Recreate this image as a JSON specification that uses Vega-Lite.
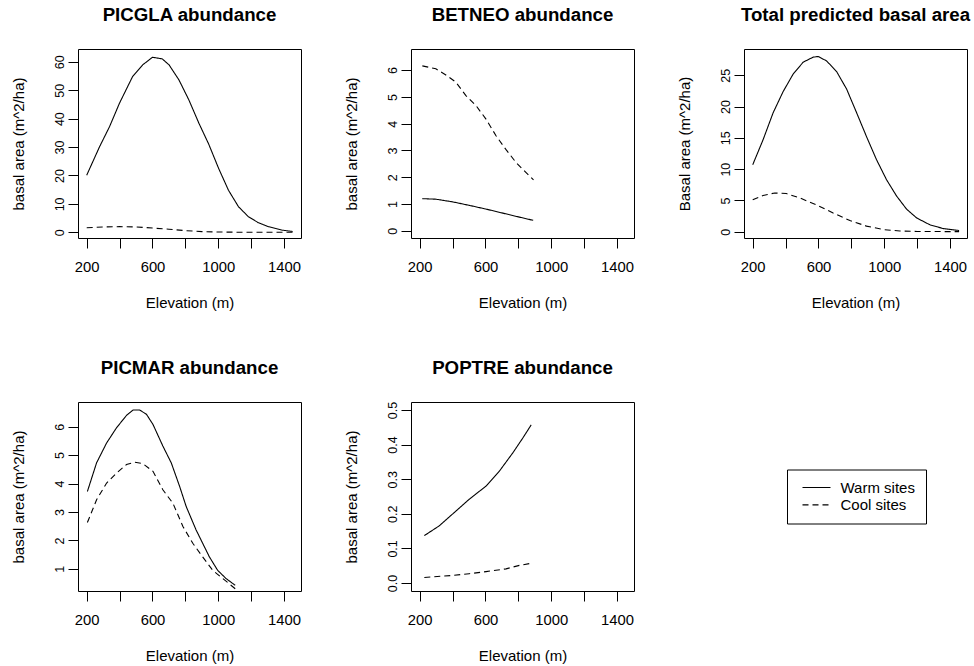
{
  "$schema": "https://vega.github.io/schema/vega-lite/v6.json",
  "autosize": "none",
  "padding": {"left": 78, "top": 49, "right": 896, "bottom": 617},
  "background": "white",
  "bounds": "flush",
  "columns": 3,
  "spacing": {"row": 164, "column": 110},
  "config": {
    "font": "Liberation Sans",
    "view": {"stroke": "black", "strokeWidth": 1},
    "axis": {
      "grid": false,
      "domain": false,
      "tickColor": "black",
      "tickSize": 10,
      "tickWidth": 1,
      "labelColor": "black",
      "titleColor": "black",
      "labelFont": "Liberation Sans",
      "titleFont": "Liberation Sans",
      "titleFontWeight": "normal",
      "titleFontSize": 15
    },
    "axisX": {
      "labelFontSize": 14.8,
      "labelPadding": 11.5,
      "labelBaseline": "top",
      "titlePadding": 21,
      "values": [200, 400, 600, 800, 1000, 1200, 1400],
      "format": "d",
      "labelExpr": "datum.value % 400 == 200 ? datum.label : ''",
      "labelFlush": false,
      "labelOverlap": false
    },
    "axisY": {
      "labelFontSize": 12.5,
      "labelAngle": -90,
      "labelAlign": "center",
      "labelBaseline": "alphabetic",
      "labelPadding": 5,
      "titleBaseline": "alphabetic",
      "titlePadding": 30,
      "labelFlush": false,
      "labelOverlap": false
    },
    "title": {"fontSize": 18.7, "fontWeight": "bold", "anchor": "middle", "offset": 24, "color": "black", "baseline": "alphabetic", "font": "Liberation Sans"},
    "line": {"color": "black", "strokeWidth": 1.1}
  },
  "resolve": {"scale": {"strokeDash": "independent"}, "legend": {"strokeDash": "independent"}},
  "data": {"values": [
    {"panel": "PICGLA", "site": "Warm sites", "elev": 200, "ba": 20.1},
    {"panel": "PICGLA", "site": "Warm sites", "elev": 278, "ba": 30.1},
    {"panel": "PICGLA", "site": "Warm sites", "elev": 339, "ba": 37.2},
    {"panel": "PICGLA", "site": "Warm sites", "elev": 399, "ba": 45.4},
    {"panel": "PICGLA", "site": "Warm sites", "elev": 479, "ba": 54.8},
    {"panel": "PICGLA", "site": "Warm sites", "elev": 540, "ba": 58.9},
    {"panel": "PICGLA", "site": "Warm sites", "elev": 600, "ba": 61.6},
    {"panel": "PICGLA", "site": "Warm sites", "elev": 660, "ba": 61.0},
    {"panel": "PICGLA", "site": "Warm sites", "elev": 701, "ba": 58.9},
    {"panel": "PICGLA", "site": "Warm sites", "elev": 761, "ba": 53.6},
    {"panel": "PICGLA", "site": "Warm sites", "elev": 821, "ba": 46.6},
    {"panel": "PICGLA", "site": "Warm sites", "elev": 882, "ba": 38.4},
    {"panel": "PICGLA", "site": "Warm sites", "elev": 942, "ba": 31.0},
    {"panel": "PICGLA", "site": "Warm sites", "elev": 1002, "ba": 22.5},
    {"panel": "PICGLA", "site": "Warm sites", "elev": 1062, "ba": 14.8},
    {"panel": "PICGLA", "site": "Warm sites", "elev": 1123, "ba": 9.0},
    {"panel": "PICGLA", "site": "Warm sites", "elev": 1183, "ba": 5.5},
    {"panel": "PICGLA", "site": "Warm sites", "elev": 1243, "ba": 3.4},
    {"panel": "PICGLA", "site": "Warm sites", "elev": 1304, "ba": 2.0},
    {"panel": "PICGLA", "site": "Warm sites", "elev": 1384, "ba": 0.8},
    {"panel": "PICGLA", "site": "Warm sites", "elev": 1452, "ba": 0.3},
    {"panel": "PICGLA", "site": "Cool sites", "elev": 200, "ba": 1.6},
    {"panel": "PICGLA", "site": "Cool sites", "elev": 300, "ba": 1.9},
    {"panel": "PICGLA", "site": "Cool sites", "elev": 400, "ba": 2.0},
    {"panel": "PICGLA", "site": "Cool sites", "elev": 500, "ba": 1.9},
    {"panel": "PICGLA", "site": "Cool sites", "elev": 600, "ba": 1.5},
    {"panel": "PICGLA", "site": "Cool sites", "elev": 700, "ba": 1.1},
    {"panel": "PICGLA", "site": "Cool sites", "elev": 800, "ba": 0.6},
    {"panel": "PICGLA", "site": "Cool sites", "elev": 900, "ba": 0.25},
    {"panel": "PICGLA", "site": "Cool sites", "elev": 1000, "ba": 0.1},
    {"panel": "PICGLA", "site": "Cool sites", "elev": 1100, "ba": 0.05},
    {"panel": "PICGLA", "site": "Cool sites", "elev": 1200, "ba": 0.02},
    {"panel": "PICGLA", "site": "Cool sites", "elev": 1300, "ba": 0.01},
    {"panel": "PICGLA", "site": "Cool sites", "elev": 1452, "ba": 0.0},
    {"panel": "BETNEO", "site": "Warm sites", "elev": 216, "ba": 1.2},
    {"panel": "BETNEO", "site": "Warm sites", "elev": 298, "ba": 1.18},
    {"panel": "BETNEO", "site": "Warm sites", "elev": 400, "ba": 1.08},
    {"panel": "BETNEO", "site": "Warm sites", "elev": 501, "ba": 0.95},
    {"panel": "BETNEO", "site": "Warm sites", "elev": 603, "ba": 0.81},
    {"panel": "BETNEO", "site": "Warm sites", "elev": 705, "ba": 0.66},
    {"panel": "BETNEO", "site": "Warm sites", "elev": 806, "ba": 0.51},
    {"panel": "BETNEO", "site": "Warm sites", "elev": 890, "ba": 0.39},
    {"panel": "BETNEO", "site": "Cool sites", "elev": 216, "ba": 6.16},
    {"panel": "BETNEO", "site": "Cool sites", "elev": 298, "ba": 6.05},
    {"panel": "BETNEO", "site": "Cool sites", "elev": 359, "ba": 5.82},
    {"panel": "BETNEO", "site": "Cool sites", "elev": 420, "ba": 5.55},
    {"panel": "BETNEO", "site": "Cool sites", "elev": 481, "ba": 5.05},
    {"panel": "BETNEO", "site": "Cool sites", "elev": 542, "ba": 4.68},
    {"panel": "BETNEO", "site": "Cool sites", "elev": 603, "ba": 4.17},
    {"panel": "BETNEO", "site": "Cool sites", "elev": 664, "ba": 3.55},
    {"panel": "BETNEO", "site": "Cool sites", "elev": 725, "ba": 3.03},
    {"panel": "BETNEO", "site": "Cool sites", "elev": 786, "ba": 2.55},
    {"panel": "BETNEO", "site": "Cool sites", "elev": 847, "ba": 2.17},
    {"panel": "BETNEO", "site": "Cool sites", "elev": 892, "ba": 1.9},
    {"panel": "TOTAL", "site": "Warm sites", "elev": 200, "ba": 10.7},
    {"panel": "TOTAL", "site": "Warm sites", "elev": 263, "ba": 14.7},
    {"panel": "TOTAL", "site": "Warm sites", "elev": 324, "ba": 19.0},
    {"panel": "TOTAL", "site": "Warm sites", "elev": 385, "ba": 22.4},
    {"panel": "TOTAL", "site": "Warm sites", "elev": 446, "ba": 25.2},
    {"panel": "TOTAL", "site": "Warm sites", "elev": 507, "ba": 27.1},
    {"panel": "TOTAL", "site": "Warm sites", "elev": 568, "ba": 27.9},
    {"panel": "TOTAL", "site": "Warm sites", "elev": 598, "ba": 28.0},
    {"panel": "TOTAL", "site": "Warm sites", "elev": 649, "ba": 27.3},
    {"panel": "TOTAL", "site": "Warm sites", "elev": 710, "ba": 25.6},
    {"panel": "TOTAL", "site": "Warm sites", "elev": 771, "ba": 22.8},
    {"panel": "TOTAL", "site": "Warm sites", "elev": 832, "ba": 19.0},
    {"panel": "TOTAL", "site": "Warm sites", "elev": 892, "ba": 15.2},
    {"panel": "TOTAL", "site": "Warm sites", "elev": 953, "ba": 11.5},
    {"panel": "TOTAL", "site": "Warm sites", "elev": 1014, "ba": 8.3},
    {"panel": "TOTAL", "site": "Warm sites", "elev": 1075, "ba": 5.7},
    {"panel": "TOTAL", "site": "Warm sites", "elev": 1136, "ba": 3.6},
    {"panel": "TOTAL", "site": "Warm sites", "elev": 1197, "ba": 2.2},
    {"panel": "TOTAL", "site": "Warm sites", "elev": 1278, "ba": 1.1},
    {"panel": "TOTAL", "site": "Warm sites", "elev": 1360, "ba": 0.5},
    {"panel": "TOTAL", "site": "Warm sites", "elev": 1455, "ba": 0.2},
    {"panel": "TOTAL", "site": "Cool sites", "elev": 200, "ba": 5.1},
    {"panel": "TOTAL", "site": "Cool sites", "elev": 263, "ba": 5.8},
    {"panel": "TOTAL", "site": "Cool sites", "elev": 334, "ba": 6.2},
    {"panel": "TOTAL", "site": "Cool sites", "elev": 405, "ba": 6.1},
    {"panel": "TOTAL", "site": "Cool sites", "elev": 486, "ba": 5.4},
    {"panel": "TOTAL", "site": "Cool sites", "elev": 588, "ba": 4.3},
    {"panel": "TOTAL", "site": "Cool sites", "elev": 689, "ba": 3.0},
    {"panel": "TOTAL", "site": "Cool sites", "elev": 791, "ba": 1.8},
    {"panel": "TOTAL", "site": "Cool sites", "elev": 892, "ba": 0.9},
    {"panel": "TOTAL", "site": "Cool sites", "elev": 994, "ba": 0.35},
    {"panel": "TOTAL", "site": "Cool sites", "elev": 1095, "ba": 0.12},
    {"panel": "TOTAL", "site": "Cool sites", "elev": 1200, "ba": 0.05},
    {"panel": "TOTAL", "site": "Cool sites", "elev": 1300, "ba": 0.03},
    {"panel": "TOTAL", "site": "Cool sites", "elev": 1455, "ba": 0.02},
    {"panel": "PICMAR", "site": "Warm sites", "elev": 204, "ba": 3.72},
    {"panel": "PICMAR", "site": "Warm sites", "elev": 260, "ba": 4.73},
    {"panel": "PICMAR", "site": "Warm sites", "elev": 321, "ba": 5.43},
    {"panel": "PICMAR", "site": "Warm sites", "elev": 381, "ba": 5.96},
    {"panel": "PICMAR", "site": "Warm sites", "elev": 442, "ba": 6.4},
    {"panel": "PICMAR", "site": "Warm sites", "elev": 482, "ba": 6.59},
    {"panel": "PICMAR", "site": "Warm sites", "elev": 521, "ba": 6.59},
    {"panel": "PICMAR", "site": "Warm sites", "elev": 563, "ba": 6.44},
    {"panel": "PICMAR", "site": "Warm sites", "elev": 603, "ba": 6.08},
    {"panel": "PICMAR", "site": "Warm sites", "elev": 663, "ba": 5.32},
    {"panel": "PICMAR", "site": "Warm sites", "elev": 714, "ba": 4.73},
    {"panel": "PICMAR", "site": "Warm sites", "elev": 765, "ba": 3.9},
    {"panel": "PICMAR", "site": "Warm sites", "elev": 805, "ba": 3.19},
    {"panel": "PICMAR", "site": "Warm sites", "elev": 865, "ba": 2.37},
    {"panel": "PICMAR", "site": "Warm sites", "elev": 905, "ba": 1.9},
    {"panel": "PICMAR", "site": "Warm sites", "elev": 946, "ba": 1.42},
    {"panel": "PICMAR", "site": "Warm sites", "elev": 996, "ba": 0.95},
    {"panel": "PICMAR", "site": "Warm sites", "elev": 1047, "ba": 0.66},
    {"panel": "PICMAR", "site": "Warm sites", "elev": 1103, "ba": 0.42},
    {"panel": "PICMAR", "site": "Cool sites", "elev": 204, "ba": 2.63},
    {"panel": "PICMAR", "site": "Cool sites", "elev": 260, "ba": 3.43},
    {"panel": "PICMAR", "site": "Cool sites", "elev": 321, "ba": 4.02},
    {"panel": "PICMAR", "site": "Cool sites", "elev": 381, "ba": 4.37},
    {"panel": "PICMAR", "site": "Cool sites", "elev": 442, "ba": 4.67},
    {"panel": "PICMAR", "site": "Cool sites", "elev": 492, "ba": 4.75},
    {"panel": "PICMAR", "site": "Cool sites", "elev": 542, "ba": 4.7},
    {"panel": "PICMAR", "site": "Cool sites", "elev": 603, "ba": 4.43},
    {"panel": "PICMAR", "site": "Cool sites", "elev": 663, "ba": 3.78},
    {"panel": "PICMAR", "site": "Cool sites", "elev": 724, "ba": 3.31},
    {"panel": "PICMAR", "site": "Cool sites", "elev": 785, "ba": 2.49},
    {"panel": "PICMAR", "site": "Cool sites", "elev": 845, "ba": 1.9},
    {"panel": "PICMAR", "site": "Cool sites", "elev": 905, "ba": 1.42},
    {"panel": "PICMAR", "site": "Cool sites", "elev": 966, "ba": 0.95},
    {"panel": "PICMAR", "site": "Cool sites", "elev": 1027, "ba": 0.66},
    {"panel": "PICMAR", "site": "Cool sites", "elev": 1103, "ba": 0.3},
    {"panel": "POPTRE", "site": "Warm sites", "elev": 228, "ba": 0.137},
    {"panel": "POPTRE", "site": "Warm sites", "elev": 318, "ba": 0.165},
    {"panel": "POPTRE", "site": "Warm sites", "elev": 399, "ba": 0.199},
    {"panel": "POPTRE", "site": "Warm sites", "elev": 501, "ba": 0.242},
    {"panel": "POPTRE", "site": "Warm sites", "elev": 603, "ba": 0.28},
    {"panel": "POPTRE", "site": "Warm sites", "elev": 684, "ba": 0.323},
    {"panel": "POPTRE", "site": "Warm sites", "elev": 766, "ba": 0.376},
    {"panel": "POPTRE", "site": "Warm sites", "elev": 827, "ba": 0.419},
    {"panel": "POPTRE", "site": "Warm sites", "elev": 878, "ba": 0.457},
    {"panel": "POPTRE", "site": "Cool sites", "elev": 228, "ba": 0.016},
    {"panel": "POPTRE", "site": "Cool sites", "elev": 399, "ba": 0.022},
    {"panel": "POPTRE", "site": "Cool sites", "elev": 501, "ba": 0.027},
    {"panel": "POPTRE", "site": "Cool sites", "elev": 603, "ba": 0.033},
    {"panel": "POPTRE", "site": "Cool sites", "elev": 725, "ba": 0.041},
    {"panel": "POPTRE", "site": "Cool sites", "elev": 806, "ba": 0.051},
    {"panel": "POPTRE", "site": "Cool sites", "elev": 878, "ba": 0.057}
  ]},
  "concat": [
    {
      "title": "PICGLA abundance",
      "width": 223, "height": 189,
      "transform": [{"filter": "datum.panel === 'PICGLA'"}],
      "mark": {"type": "line"},
      "encoding": {
        "x": {"field": "elev", "type": "quantitative", "scale": {"domain": [147, 1503], "nice": false, "zero": false}, "axis": {"title": "Elevation (m)"}},
        "y": {"field": "ba", "type": "quantitative", "scale": {"domain": [-2.0, 64.5], "nice": false, "zero": false}, "axis": {"title": "basal area (m^2/ha)", "values": [0, 10, 20, 30, 40, 50, 60]}},
        "strokeDash": {"field": "site", "type": "nominal", "scale": {"domain": ["Warm sites", "Cool sites"], "range": [[1, 0], [6, 4]]}, "legend": null}
      }
    },
    {
      "title": "BETNEO abundance",
      "width": 223, "height": 189,
      "transform": [{"filter": "datum.panel === 'BETNEO'"}],
      "mark": {"type": "line"},
      "encoding": {
        "x": {"field": "elev", "type": "quantitative", "scale": {"domain": [147, 1503], "nice": false, "zero": false}, "axis": {"title": "Elevation (m)"}},
        "y": {"field": "ba", "type": "quantitative", "scale": {"domain": [-0.27, 6.79], "nice": false, "zero": false}, "axis": {"title": "basal area (m^2/ha)", "values": [0, 1, 2, 3, 4, 5, 6]}},
        "strokeDash": {"field": "site", "type": "nominal", "scale": {"domain": ["Warm sites", "Cool sites"], "range": [[1, 0], [6, 4]]}, "legend": null}
      }
    },
    {
      "title": "Total predicted basal area",
      "width": 223, "height": 189,
      "transform": [{"filter": "datum.panel === 'TOTAL'"}],
      "mark": {"type": "line"},
      "encoding": {
        "x": {"field": "elev", "type": "quantitative", "scale": {"domain": [147, 1503], "nice": false, "zero": false}, "axis": {"title": "Elevation (m)"}},
        "y": {"field": "ba", "type": "quantitative", "scale": {"domain": [-1.0, 29.2], "nice": false, "zero": false}, "axis": {"title": "Basal area (m^2/ha)", "values": [0, 5, 10, 15, 20, 25]}},
        "strokeDash": {"field": "site", "type": "nominal", "scale": {"domain": ["Warm sites", "Cool sites"], "range": [[1, 0], [6, 4]]}, "legend": null}
      }
    },
    {
      "title": "PICMAR abundance",
      "width": 223, "height": 189,
      "transform": [{"filter": "datum.panel === 'PICMAR'"}],
      "mark": {"type": "line"},
      "encoding": {
        "x": {"field": "elev", "type": "quantitative", "scale": {"domain": [147, 1503], "nice": false, "zero": false}, "axis": {"title": "Elevation (m)"}},
        "y": {"field": "ba", "type": "quantitative", "scale": {"domain": [0.22, 6.87], "nice": false, "zero": false}, "axis": {"title": "basal area (m^2/ha)", "values": [1, 2, 3, 4, 5, 6]}},
        "strokeDash": {"field": "site", "type": "nominal", "scale": {"domain": ["Warm sites", "Cool sites"], "range": [[1, 0], [6, 4]]}, "legend": null}
      }
    },
    {
      "title": "POPTRE abundance",
      "width": 223, "height": 189,
      "transform": [{"filter": "datum.panel === 'POPTRE'"}],
      "mark": {"type": "line"},
      "encoding": {
        "x": {"field": "elev", "type": "quantitative", "scale": {"domain": [147, 1503], "nice": false, "zero": false}, "axis": {"title": "Elevation (m)"}},
        "y": {"field": "ba", "type": "quantitative", "scale": {"domain": [-0.023, 0.523], "nice": false, "zero": false}, "axis": {"title": "basal area (m^2/ha)", "values": [0, 0.1, 0.2, 0.3, 0.4, 0.5], "format": ".1f"}},
        "strokeDash": {"field": "site", "type": "nominal", "scale": {"domain": ["Warm sites", "Cool sites"], "range": [[1, 0], [6, 4]]}, "legend": {"orient": "none", "legendX": 376, "legendY": 67.5, "title": null, "strokeColor": "black", "padding": 10.5, "symbolType": "M-0.5,0H5.1", "symbolSize": 100, "symbolStrokeWidth": 1, "symbolStrokeColor": "black", "symbolFillColor": "transparent", "labelFontSize": 15, "labelOffset": 28, "rowPadding": 1.4, "labelFont": "Liberation Sans", "labelColor": "black"}}
      }
    }
  ]
}
